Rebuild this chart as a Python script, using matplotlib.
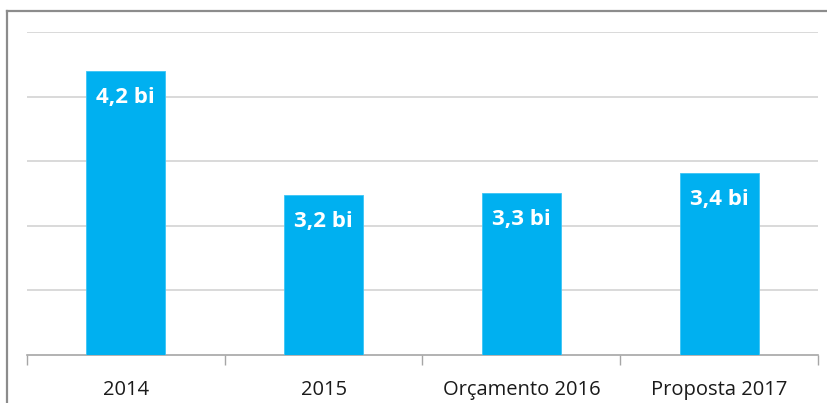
import matplotlib
matplotlib.use("Agg")
import matplotlib.pyplot as plt
from matplotlib.lines import Line2D

categories = ["2014", "2015", "Orçamento 2016", "Proposta 2017"]
values = [4.20, 3.24, 3.25, 3.41]
labels = ["4,2 bi", "3,2 bi", "3,3 bi", "3,4 bi"]

W, H = 827, 403
fig = plt.figure(figsize=(W / 100, H / 100), dpi=100)
ax = fig.add_axes([27 / W, (H - 355) / H, (818 - 27) / W, (355 - 32) / H])

x = range(len(categories))
ax.bar(x, [v - 2.0 for v in values], bottom=2.0, width=0.40,
       color="#00b0f0", edgecolor="#3cc4f5", linewidth=0.6, zorder=3)
for xi, v, lab in zip(x, values, labels):
    ax.annotate(lab, (xi, v), xytext=(0, -19), textcoords="offset points",
                ha="center", va="center", color="white", fontsize=16,
                fontweight="bold", family="Open Sans", zorder=4)

ax.set_xlim(-0.5, len(categories) - 0.5)
ax.set_ylim(2.0, 4.5)
ax.set_yticks([2.5, 3.0, 3.5, 4.0, 4.5])
ax.yaxis.grid(True, color="#d9d9d9", linewidth=1.4, zorder=0)
ax.tick_params(axis="y", left=False, labelleft=False)

ax.set_xticks(list(x))
ax.set_xticklabels(categories, family="Open Sans", fontsize=14.5, color="#1a1a1a")
ax.set_xticks([i - 0.5 for i in range(len(categories) + 1)], minor=True)
ax.tick_params(axis="x", which="major", length=0, pad=18)
ax.tick_params(axis="x", which="minor", length=7, color="#a6a6a6", width=1)
for s in ["top", "right", "left"]:
    ax.spines[s].set_visible(False)
ax.spines["bottom"].set_color("#a6a6a6")
ax.spines["bottom"].set_linewidth(1.2)

# outer chart frame (cropped at right and bottom)
tr = fig.transFigure
fig.add_artist(Line2D([6.5 / W, 6.5 / W], [0, 1 - 11 / H], color="#8c8c8c", lw=1.6, transform=tr))
fig.add_artist(Line2D([6.5 / W, 1], [1 - 11 / H, 1 - 11 / H], color="#8c8c8c", lw=1.6, transform=tr))

fig.savefig("out.png", dpi=100)
